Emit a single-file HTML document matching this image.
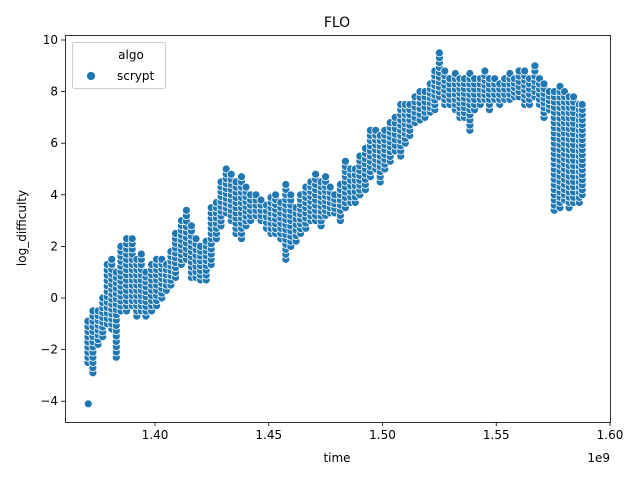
<!DOCTYPE html>
<html><head><meta charset="utf-8"><style>
body{margin:0;background:#fff;}
svg{display:block;font-family:"DejaVu Sans","Liberation Sans",sans-serif;}
</style></head><body>
<svg id="chart" width="640" height="480" viewBox="0 0 640 480">
<rect width="640" height="480" fill="#fff"/>
<g id="pts"></g>
<g id="axes"></g>
<text x="337" y="27" text-anchor="middle" font-size="14">FLO</text>
<text x="337" y="462" text-anchor="middle" font-size="12">time</text>
<text x="610" y="462" text-anchor="end" font-size="12">1e9</text>
<text transform="translate(26,228) rotate(-90)" text-anchor="middle" font-size="12">log_difficulty</text>
<g>
<rect x="72.5" y="42.5" width="93" height="46" rx="2" fill="#fff" fill-opacity="0.8" stroke="#ccc"/>
<text x="131" y="59" text-anchor="middle" font-size="12">algo</text>
<circle cx="91" cy="76" r="4.5" fill="#1f77b4" stroke="#fff" stroke-width="0.8"/>
<text x="117" y="80" font-size="12">scrypt</text>
</g>
</svg>
<script>
const timeBins=[1.3705,1.3727,1.375,1.377,1.379,1.381,1.383,1.385,1.3875,1.390,1.392,1.394,1.396,1.3985,1.4007,1.403,1.405,1.407,1.409,1.4116,1.4138,1.416,1.418,1.420,1.4225,1.4247,1.427,1.429,1.4313,1.4335,1.4356,1.438,1.440,1.442,1.4444,1.4466,1.449,1.451,1.453,1.4553,1.4575,1.4597,1.462,1.464,1.4663,1.4685,1.4706,1.473,1.475,1.477,1.479,1.4815,1.4837,1.486,1.488,1.490,1.4925,1.4947,1.497,1.499,1.501,1.5034,1.5056,1.508,1.510,1.512,1.5143,1.5165,1.5187,1.521,1.523,1.525,1.5274,1.5296,1.532,1.534,1.536,1.5384,1.5405,1.543,1.545,1.547,1.5493,1.5515,1.5537,1.556,1.558,1.560,1.5625,1.5646,1.567,1.569,1.571,1.5733,1.5755,1.578,1.580,1.582,1.584,1.5865,1.5878];
const highVals=[-0.9,-0.5,-0.5,0,1.3,1.5,1,2,2.3,2.3,1.5,1.7,1,1.3,1.5,1.5,1.3,1.8,2.5,3.0,3.4,2.8,2.3,2.0,2.2,3.5,3.7,4.5,5.0,4.8,4.5,4.7,4.3,4.0,4.0,3.8,3.6,3.9,4.0,3.7,4.4,4.0,3.5,4.0,4.3,4.5,4.8,4.5,4.7,4.3,4.0,4.4,5.3,5.0,5.0,5.5,5.8,6.5,6.5,6.3,6.5,6.8,7.0,7.5,7.5,7.5,7.8,8.0,8.0,8.3,8.8,9.5,8.8,8.5,8.7,8.5,8.5,8.7,8.5,8.5,8.8,8.5,8.5,8.3,8.5,8.7,8.5,8.8,8.8,8.5,9.0,8.5,8.3,8.0,8.0,8.2,8.0,7.8,7.8,7.5,7.5];
const lowVals=[-2.5,-2.9,-1.8,-1.5,-1,-1.2,-2.3,-0.5,-0.5,-0.3,-0.7,-0.5,-0.7,-0.5,-0.3,0,0.3,0.5,0.8,1.3,1.5,0.8,0.8,0.7,0.7,1.3,2.3,2.8,3.3,3.0,2.5,2.3,2.8,3.0,3.2,3.0,2.7,2.5,2.5,2.3,1.5,2.0,2.2,2.5,2.7,3.0,3.0,2.8,3.2,3.3,3.3,3.0,3.5,3.7,3.7,4.0,4.2,4.7,5.0,4.5,5.0,5.3,5.7,5.5,6.0,6.3,6.8,6.9,7.0,7.2,7.3,7.8,7.5,7.5,7.3,7.0,7.0,6.5,7.3,7.5,7.7,7.3,7.7,7.5,7.7,7.7,7.8,7.8,7.5,7.5,7.8,7.5,7.0,7.3,3.4,3.5,3.8,3.5,3.7,3.7,4.0];
const outlierTimes=[1.3707];
const outlierVals=[-4.1];
const xTicks=[1.40,1.45,1.50,1.55,1.60];
const xTickLabels=["1.40","1.45","1.50","1.55","1.60"];
const yTicks=[-4,-2,0,2,4,6,8,10];
const yTickLabels=["−4","−2","0","2","4","6","8","10"];

const L=65,R=610,T=35,B=422;
const xs=t=>155+(t-1.40)*2275;
const ys=v=>298-v*25.8;
const NS="http://www.w3.org/2000/svg";
const pts=document.getElementById('pts'), axes=document.getElementById('axes');
function dot(t,v){
  const c=document.createElementNS(NS,'circle');
  c.setAttribute('cx',xs(t).toFixed(1));c.setAttribute('cy',ys(v).toFixed(1));
  c.setAttribute('r','4');c.setAttribute('fill','#1f77b4');
  c.setAttribute('stroke','#fff');c.setAttribute('stroke-width','0.8');
  
  
  pts.appendChild(c);
}
timeBins.forEach((t,i)=>{
  const lo=lowVals[i],hi=highVals[i];
  const n=Math.max(1,Math.round((hi-lo)/0.2));
  for(let k=0;k<=n;k++){dot(t,lo+(hi-lo)*k/n);}
});
outlierTimes.forEach((t,i)=>dot(t,outlierVals[i]));

function el(tag,attrs,text){const e=document.createElementNS(NS,tag);for(const k in attrs)e.setAttribute(k,attrs[k]);if(text!==undefined)e.textContent=text;axes.appendChild(e);return e;}
const frame=el('rect',{x:L+0.5,y:T+0.5,width:R-L,height:B-T,fill:'none',stroke:'#000','stroke-width':0.8});


xTicks.forEach((t,i)=>{
  const x=xs(t);
  const l=el('line',{x1:x,x2:x,y1:B,y2:B+4,stroke:'#000','stroke-width':0.8});
  
  
  const tx=el('text',{x:x,y:B+17,'text-anchor':'middle','font-size':12},xTickLabels[i]);
  
  
});
yTicks.forEach((v,i)=>{
  const y=ys(v);
  const l=el('line',{x1:L-4,x2:L,y1:y,y2:y,stroke:'#000','stroke-width':0.8});
  
  
  const tx=el('text',{x:L-7,y:y+4,'text-anchor':'end','font-size':12},yTickLabels[i]);
  
  
});
</script>
</body></html>
